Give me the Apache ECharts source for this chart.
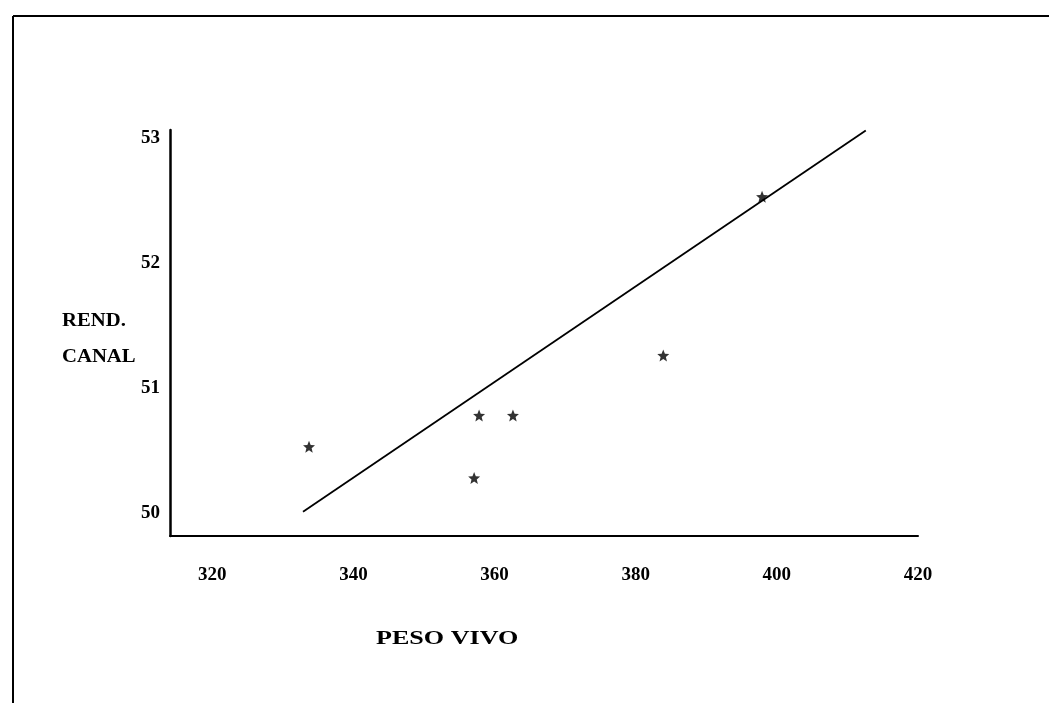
<!DOCTYPE html>
<html>
<head>
<meta charset="utf-8">
<script src="https://cdn.jsdelivr.net/npm/echarts@6/dist/echarts.min.js"></script>
<style>
  html, body { margin: 0; padding: 0; background: #fff; }
  #chart { width: 1049px; height: 703px; }
</style>
</head>
<body>
<div id="chart"></div>
<script>
// Observed points (PESO VIVO, REND. CANAL)
const pesoVivo = [333.7, 357.8, 362.6, 357.1, 383.9, 397.9];
const rendCanal = [50.53, 50.78, 50.78, 50.28, 51.26, 52.53];
// Fitted line end points
const lineX = [332.85, 412.6];
const lineY = [50.01, 53.06];
// Tick labels
const xTicks = [320, 340, 360, 380, 400, 420];
const yTicks = [50, 51, 52, 53];

const starPath = 'path://M12,2 L14.9,8.9 L22.5,9.3 L16.6,14.1 L18.5,21.5 L12,17.4 L5.5,21.5 L7.4,14.1 L1.5,9.3 L9.1,8.9 Z';
const font = '"Liberation Serif", "DejaVu Serif", serif';

const chart = echarts.init(document.getElementById('chart'), null, { renderer: 'canvas' });
chart.setOption({
  backgroundColor: '#ffffff',
  animation: false,
  grid: { left: 170, top: 130, width: 748, height: 406, containLabel: false },
  xAxis: {
    type: 'value', min: 314, max: 420,
    axisLine: { show: true, lineStyle: { color: '#000', width: 2 } },
    axisTick: { show: false },
    splitLine: { show: false },
    axisLabel: {
      customValues: xTicks, margin: 30, color: '#000',
      fontFamily: font, fontSize: 19, fontWeight: 'bold'
    }
  },
  yAxis: {
    type: 'value', min: 49.816, max: 53.064,
    axisLine: { show: true, lineStyle: { color: '#000', width: 2.5 } },
    axisTick: { show: false },
    splitLine: { show: false },
    axisLabel: {
      customValues: yTicks, margin: 10, color: '#000',
      fontFamily: font, fontSize: 19, fontWeight: 'bold'
    }
  },
  series: [
    {
      type: 'line',
      data: lineX.map((x, i) => [x, lineY[i]]),
      showSymbol: false,
      lineStyle: { color: '#000', width: 1.8 },
      z: 2
    },
    {
      type: 'scatter',
      data: pesoVivo.map((x, i) => [x, rendCanal[i]]),
      symbol: starPath,
      symbolSize: 12,
      itemStyle: { color: '#000' },
      z: 3
    }
  ],
  graphic: [
    { type: 'line', shape: { x1: 13, y1: 16, x2: 1049, y2: 16 }, style: { stroke: '#000', lineWidth: 2 } },
    { type: 'line', shape: { x1: 13, y1: 16, x2: 13, y2: 703 }, style: { stroke: '#000', lineWidth: 2 } },
    { type: 'text', x: 62, y: 312, scaleX: 1.15, style: { text: 'REND.', font: 'bold 18px ' + font, fill: '#000' } },
    { type: 'text', x: 62, y: 348, scaleX: 1.15, style: { text: 'CANAL', font: 'bold 18px ' + font, fill: '#000' } },
    { type: 'text', x: 376, y: 630, scaleX: 1.45, style: { text: 'PESO VIVO', font: 'bold 18px ' + font, fill: '#000' } }
  ]
});
</script>
</body>
</html>
